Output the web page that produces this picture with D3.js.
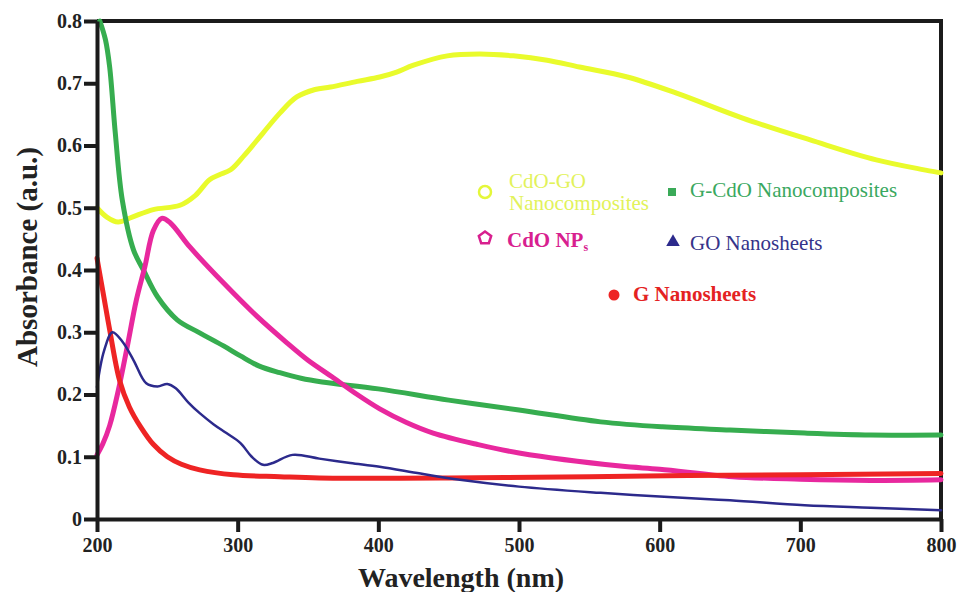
<!DOCTYPE html>
<html>
<head>
<meta charset="utf-8">
<script src="https://cdn.jsdelivr.net/npm/d3@7"></script>
<style>
  body { margin: 0; background: #fff; }
  svg { display: block; }
</style>
</head>
<body>
<svg id="chart"></svg>
<script>
// values: [wavelength nm, absorbance]
const cdoGo = [[200,0.500],[207,0.485],[215,0.477],[225,0.485],[240,0.497],[259,0.504],[270,0.520],[280,0.545],[287,0.553],[295,0.561],[305,0.585],[318,0.620],[330,0.652],[342,0.678],[355,0.690],[366,0.694],[385,0.703],[401,0.710],[413,0.718],[425,0.729],[449,0.744],[472,0.747],[496,0.744],[520,0.737],[543,0.726],[577,0.710],[612,0.684],[659,0.644],[707,0.609],[754,0.577],[800,0.556]];
const gCdo = [[202,0.800],[206,0.770],[209,0.726],[213,0.620],[218,0.512],[226,0.432],[233,0.400],[243,0.357],[257,0.320],[273,0.299],[290,0.278],[302,0.262],[315,0.246],[330,0.235],[345,0.226],[360,0.220],[400,0.209],[450,0.191],[500,0.175],[558,0.156],[602,0.148],[650,0.143],[703,0.138],[750,0.135],[800,0.135]];
const cdoNps = [[200,0.103],[204,0.120],[209,0.150],[215,0.205],[221,0.271],[228,0.352],[234,0.405],[240,0.463],[246,0.483],[252,0.476],[266,0.437],[290,0.379],[314,0.325],[335,0.283],[350,0.255],[368,0.227],[385,0.200],[401,0.177],[420,0.155],[439,0.138],[470,0.120],[500,0.106],[572,0.085],[600,0.080],[652,0.068],[700,0.064],[750,0.062],[800,0.063]];
const goSheets = [[200,0.212],[205,0.270],[211,0.300],[218,0.285],[226,0.255],[235,0.218],[243,0.213],[250,0.217],[256,0.210],[265,0.187],[273,0.170],[283,0.152],[292,0.138],[302,0.122],[310,0.100],[318,0.087],[325,0.090],[339,0.103],[358,0.097],[380,0.090],[401,0.084],[430,0.073],[458,0.063],[500,0.052],[558,0.042],[600,0.036],[650,0.030],[703,0.022],[750,0.018],[800,0.014]];
const gSheets = [[200,0.419],[205,0.355],[209,0.304],[216,0.223],[223,0.180],[231,0.148],[240,0.120],[250,0.100],[260,0.088],[273,0.079],[297,0.071],[330,0.068],[358,0.066],[450,0.066],[550,0.068],[620,0.070],[700,0.071],[800,0.073]];

const xTicks = [200, 300, 400, 500, 600, 700, 800];
const yTicks = [0, 0.1, 0.2, 0.3, 0.4, 0.5, 0.6, 0.7, 0.8];

const width = 960, height = 592;
const margin = {top: 21, right: 19, bottom: 73, left: 97};
const serif = "'Liberation Serif', 'Times New Roman', serif";

const svg = d3.select('#chart')
  .attr('width', width)
  .attr('height', height)
  .attr('font-family', serif);

const x = d3.scaleLinear().domain([200, 800]).range([margin.left, width - margin.right]);
const y = d3.scaleLinear().domain([0, 0.8]).range([height - margin.bottom, margin.top]);

// frame top / right
svg.append('path')
  .attr('d', `M${x(200)},${y(0.8)}H${x(800)}V${y(0)}`)
  .attr('fill', 'none')
  .attr('stroke', '#1b1b1b')
  .attr('stroke-width', 4);

const line = d3.line()
  .x(d => x(d[0]))
  .y(d => y(d[1]))
  .curve(d3.curveCatmullRom.alpha(0.5));

const series = [
  {data: cdoGo, color: '#e9fb2c', w: 5},
  {data: gCdo, color: '#36ad4f', w: 5},
  {data: cdoNps, color: '#e8289e', w: 5},
  {data: gSheets, color: '#ee2424', w: 5},
  {data: goSheets, color: '#2c2a8c', w: 2.5}
];

svg.selectAll('path.curve')
  .data(series)
  .join('path')
    .attr('class', 'curve')
    .attr('d', d => line(d.data))
    .attr('fill', 'none')
    .attr('stroke', d => d.color)
    .attr('stroke-width', d => d.w)
    .attr('stroke-linecap', 'round')
    .attr('stroke-linejoin', 'round');

// axes
const xAxis = svg.append('g')
  .attr('transform', `translate(0,${y(0)})`)
  .call(d3.axisBottom(x).tickValues(xTicks).tickSize(13).tickSizeOuter(0).tickPadding(6).tickFormat(d3.format('d')));

const yAxis = svg.append('g')
  .attr('transform', `translate(${x(200)},0)`)
  .call(d3.axisLeft(y).tickValues(yTicks).tickSize(13).tickSizeOuter(0).tickPadding(2)
    .tickFormat(d => d === 0 ? '0' : d3.format('.1f')(d)));

[xAxis, yAxis].forEach(g => {
  g.attr('font-family', serif);
  g.select('.domain').attr('stroke', '#1b1b1b').attr('stroke-width', 4);
  g.selectAll('.tick line').attr('stroke', '#1b1b1b').attr('stroke-width', 4);
  g.selectAll('.tick text')
    .attr('fill', '#222')
    .attr('font-family', serif)
    .attr('font-weight', 'bold')
    .attr('font-size', 20);
});

// axis titles
svg.append('text')
  .attr('x', 461)
  .attr('y', 587)
  .attr('text-anchor', 'middle')
  .attr('font-weight', 'bold')
  .attr('font-size', 28)
  .attr('fill', '#222')
  .text('Wavelength (nm)');

svg.append('text')
  .attr('transform', 'translate(37,257) rotate(-90)')
  .attr('text-anchor', 'middle')
  .attr('font-weight', 'bold')
  .attr('font-size', 29)
  .attr('fill', '#222')
  .text('Absorbance (a.u.)');

// legend
const lg = svg.append('g').attr('font-size', 21);

lg.append('circle').attr('cx', 485).attr('cy', 192).attr('r', 6)
  .attr('fill', 'none').attr('stroke', '#e4f73a').attr('stroke-width', 2.5);
lg.append('text').attr('x', 509).attr('y', 188).attr('fill', '#e2f25a').text('CdO-GO');
lg.append('text').attr('x', 509).attr('y', 210).attr('fill', '#e2f25a').text('Nanocomposites');

lg.append('rect').attr('x', 668).attr('y', 188).attr('width', 8).attr('height', 8)
  .attr('fill', '#3aaa58');
lg.append('text').attr('x', 690).attr('y', 197).attr('fill', '#3aa860').text('G-CdO Nanocomposites');

const pent = d3.range(5).map(i => {
  const a = -Math.PI / 2 + i * 2 * Math.PI / 5;
  return [485 + 6.5 * Math.cos(a), 238 + 6.5 * Math.sin(a)];
});
lg.append('polygon').attr('points', pent.map(p => p.join(',')).join(' '))
  .attr('fill', 'none').attr('stroke', '#d8208f').attr('stroke-width', 2.5);
const npText = lg.append('text').attr('x', 507).attr('y', 247)
  .attr('fill', '#d8208f').attr('font-weight', 'bold');
npText.append('tspan').text('CdO NP');
npText.append('tspan').attr('font-size', 12).attr('dy', 4).text('s');

lg.append('path')
  .attr('d', d3.symbol(d3.symbolTriangle, 80)())
  .attr('transform', 'translate(673,242)')
  .attr('fill', '#2c2a8c');
lg.append('text').attr('x', 690).attr('y', 250).attr('fill', '#35338a').text('GO Nanosheets');

lg.append('circle').attr('cx', 614).attr('cy', 295).attr('r', 5.5).attr('fill', '#ee2424');
lg.append('text').attr('x', 633).attr('y', 301).attr('fill', '#e42222').attr('font-weight', 'bold').text('G Nanosheets');
</script>
</body>
</html>
